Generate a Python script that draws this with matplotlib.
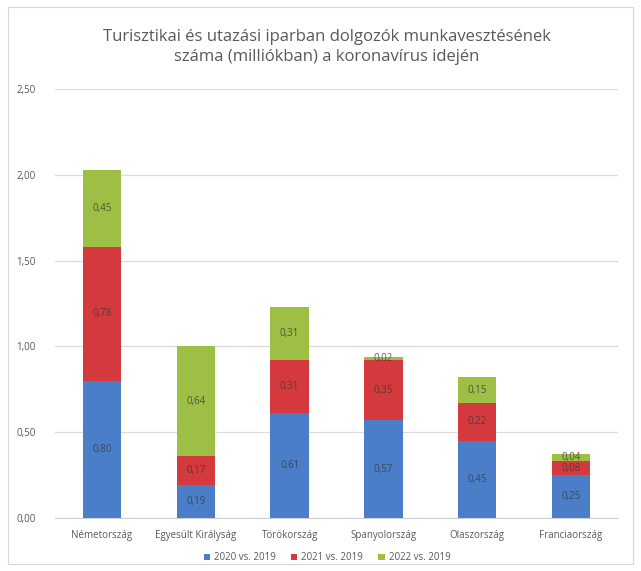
import matplotlib
matplotlib.use("Agg")
import matplotlib.pyplot as plt
import numpy as np

# adatok (millió fő)
orszagok = ["Németország", "Egyesült Királyság", "Törökország",
            "Spanyolország", "Olaszország", "Franciaország"]
v2020 = [0.80, 0.19, 0.61, 0.57, 0.45, 0.25]
v2021 = [0.78, 0.17, 0.31, 0.35, 0.22, 0.08]
v2022 = [0.45, 0.64, 0.31, 0.02, 0.15, 0.04]
sorozatok = ["2020 vs. 2019", "2021 vs. 2019", "2022 vs. 2019"]
szinek = ["#4a7ec9", "#d4393e", "#9dbf45"]
yticks = [0.0, 0.5, 1.0, 1.5, 2.0, 2.5]

plt.rcParams['font.family'] = ['Open Sans', 'DejaVu Sans']

fig = plt.figure(figsize=(6.41, 5.71), dpi=100)
ax = fig.add_axes([0.086, 0.093, 0.878, 0.751])

x = np.arange(len(orszagok))
w = 0.41
bottom = np.zeros(len(orszagok))
for vals, nev, c in zip([v2020, v2021, v2022], sorozatok, szinek):
    vals = np.array(vals)
    ax.bar(x, vals, w, bottom=bottom, color=c, label=nev, zorder=3)
    for xi, b, v in zip(x, bottom, vals):
        ax.text(xi, b + v / 2, ("%.2f" % v).replace(".", ","), ha="center",
                va="center", fontsize=7, color="#3a3a3a", alpha=0.8, zorder=4)
    bottom = bottom + vals

ax.set_xlim(-0.5, len(orszagok) - 0.5)
ax.set_ylim(0, 2.5)
ax.set_yticks(yticks)
ax.set_yticklabels([("%.2f" % t).replace(".", ",") for t in yticks])
ax.set_xticks(x)
ax.set_xticklabels(orszagok)
ax.tick_params(axis="both", length=0, labelsize=7, colors="#595959")
ax.tick_params(axis="x", pad=9)
ax.tick_params(axis="y", pad=14)
ax.grid(axis="y", color="#dcdcdc", linewidth=0.9, zorder=0)
for s in ["top", "right", "left"]:
    ax.spines[s].set_visible(False)
ax.spines["bottom"].set_color("#d0d0d0")

fig.text(0.51, 0.918, "Turisztikai és utazási iparban dolgozók munkavesztésének\n"
         "száma (milliókban) a koronavírus idején",
         ha="center", va="center", fontsize=12, color="#595959", linespacing=1.3)

leg = fig.legend(loc="lower center", bbox_to_anchor=(0.51, -0.002), ncol=3,
                 frameon=False, fontsize=7, handlelength=0.7, handleheight=0.7,
                 columnspacing=1.5, handletextpad=0.4)
for t in leg.get_texts():
    t.set_color("#595959")

fig.patches.append(plt.Rectangle((0.012, 0.012), 0.976, 0.976,
                                 transform=fig.transFigure, fill=False,
                                 edgecolor="#d9d9d9", linewidth=0.8))

fig.savefig("out.png", dpi=100)
